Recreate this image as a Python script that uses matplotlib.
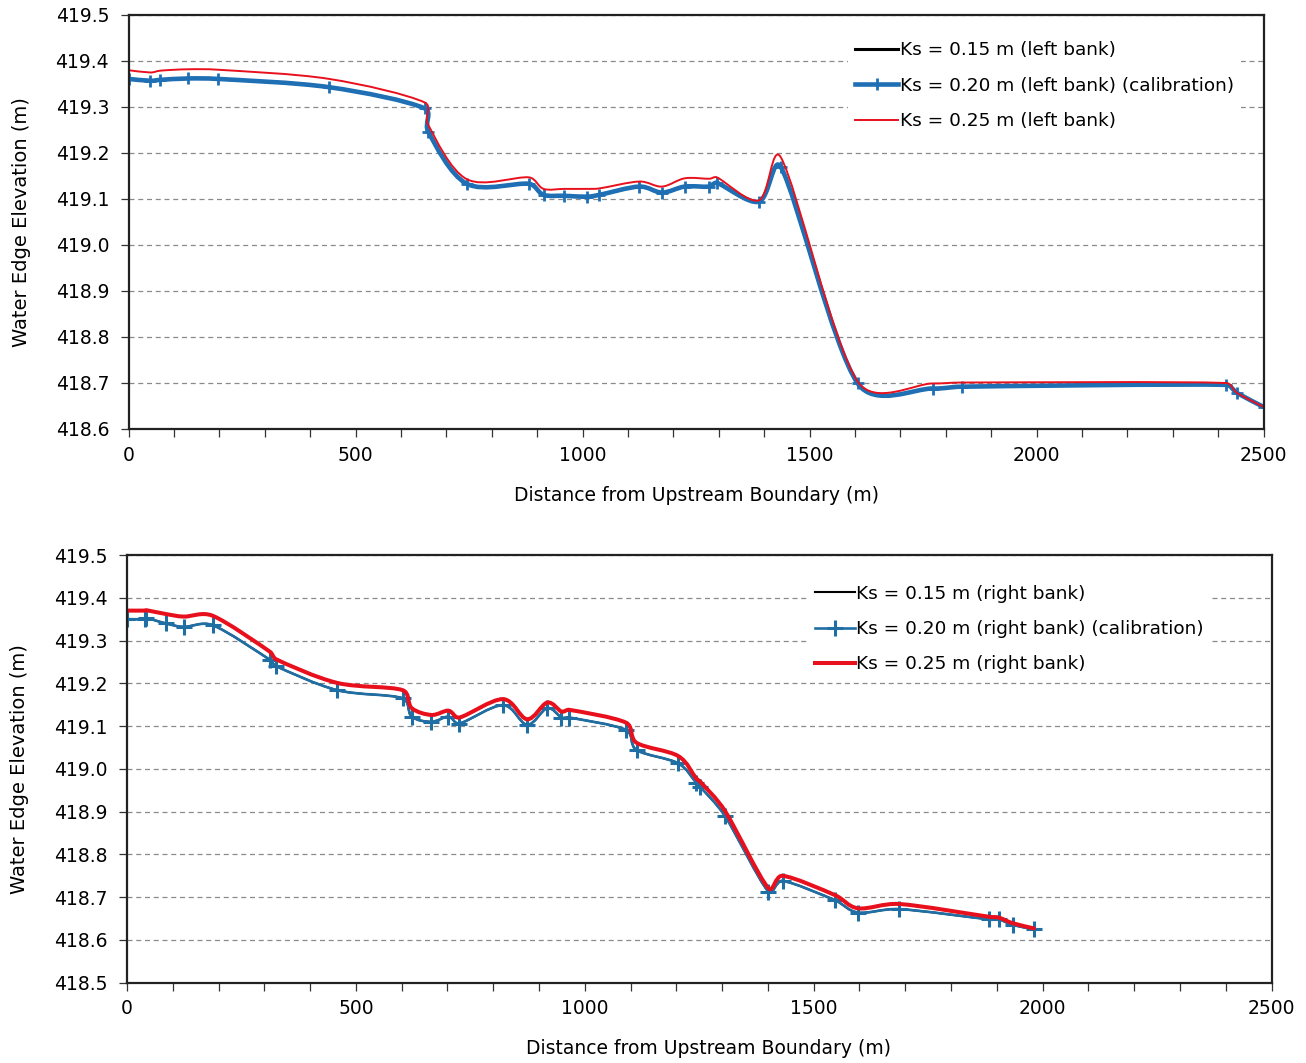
import matplotlib
matplotlib.use('Agg')
import matplotlib.pyplot as plt
from matplotlib.path import Path
from matplotlib.patches import PathPatch
from matplotlib.lines import Line2D
from matplotlib.ticker import MultipleLocator, FormatStrFormatter
import numpy as np

plt.rcParams['font.family'] = ['DejaVu Sans']

# ---------------- data: left bank (top panel) ----------------
x_left = [0, 48, 70, 130, 197, 442, 652, 660, 745, 882, 914, 960, 1010, 1037,
          1125, 1175, 1225, 1279, 1296, 1388, 1437, 1606, 1771, 1835, 2417, 2442, 2500]
left_ks020 = [419.361, 419.357, 419.359, 419.362, 419.361, 419.343, 419.297, 419.246,
              419.133, 419.133, 419.109, 419.107, 419.105, 419.109, 419.127, 419.114,
              419.127, 419.127, 419.135, 419.094, 419.169, 418.699, 418.688, 418.692,
              418.696, 418.678, 418.648]
left_ks015 = [419.361, 419.357, 419.359, 419.362, 419.361, 419.343, 419.297, 419.246,
              419.133, 419.133, 419.109, 419.107, 419.105, 419.109, 419.127, 419.114,
              419.127, 419.127, 419.135, 419.094, 419.169, 418.699, 418.688, 418.692,
              418.696, 418.678, 418.648]
left_ks025 = [419.380, 419.375, 419.379, 419.382, 419.381, 419.361, 419.310, 419.261,
              419.143, 419.147, 419.122, 419.122, 419.122, 419.123, 419.138, 419.127,
              419.145, 419.144, 419.147, 419.097, 419.190, 418.703, 418.699, 418.701,
              418.700, 418.678, 418.648]

# ---------------- data: right bank (bottom panel) ----------------
x_right = [0, 39, 42, 85, 124, 187, 312, 326, 459, 602, 622, 665, 702, 726, 821, 874,
           918, 949, 966, 1090, 1113, 1204, 1243, 1252, 1306, 1401, 1432, 1546, 1597,
           1687, 1884, 1905, 1935, 1981]
right_ks020 = [419.350, 419.350, 419.353, 419.340, 419.332, 419.336, 419.255, 419.240,
               419.184, 419.165, 419.122, 419.110, 419.122, 419.106, 419.149, 419.103,
               419.142, 419.120, 419.120, 419.091, 419.044, 419.013, 418.968, 418.958,
               418.890, 418.713, 418.738, 418.693, 418.664, 418.672, 418.648, 418.648,
               418.635, 418.625]
right_ks015 = [419.350, 419.350, 419.353, 419.340, 419.332, 419.336, 419.255, 419.240,
               419.184, 419.165, 419.122, 419.110, 419.122, 419.106, 419.149, 419.103,
               419.142, 419.120, 419.120, 419.091, 419.044, 419.013, 418.968, 418.958,
               418.890, 418.713, 418.738, 418.693, 418.664, 418.672, 418.648, 418.648,
               418.635, 418.625]
right_ks025 = [419.370, 419.370, 419.371, 419.362, 419.356, 419.358, 419.274, 419.256,
               419.201, 419.184, 419.142, 419.126, 419.136, 419.120, 419.163, 419.116,
               419.155, 419.134, 419.138, 419.108, 419.061, 419.030, 418.978, 418.970,
               418.902, 418.721, 418.750, 418.705, 418.674, 418.684, 418.654, 418.652,
               418.639, 418.627]

labels_left = ['Ks = 0.15 m (left bank)', 'Ks = 0.20 m (left bank) (calibration)',
               'Ks = 0.25 m (left bank)']
labels_right = ['Ks = 0.15 m (right bank)', 'Ks = 0.20 m (right bank) (calibration)',
                'Ks = 0.25 m (right bank)']
xlabel = 'Distance from Upstream Boundary (m)'
ylabel = 'Water Edge Elevation (m)'

BLACK = '#000000'
BLUE_TOP = '#1f6fb5'
BLUE_BOT = '#1f6fa5'
RED = '#e8101c'


def smooth_path(x, y, sx, sy, k=0.4):
    """Smoothed line through the points: Catmull-Rom style cubic Bezier
    handles (1/6 of neighbour difference, in screen-proportional space),
    clamped to a fraction of the segment length to avoid loops."""
    pts = np.column_stack([np.asarray(x, float) * sx, np.asarray(y, float) * sy])
    n = len(pts)
    verts = [pts[0]]
    codes = [Path.MOVETO]

    def handle(i):
        a = pts[i - 1] if i > 0 else pts[i]
        b = pts[i + 1] if i < n - 1 else pts[i]
        return (b - a) / 6.0

    for i in range(n - 1):
        p1, p2 = pts[i], pts[i + 1]
        L = np.hypot(*(p2 - p1))
        h1 = handle(i)
        h2 = handle(i + 1)
        for h in (h1, h2):
            m = np.hypot(*h)
            if m > k * L and m > 0:
                h *= k * L / m
        c1 = p1 + h1
        c2 = p2 - h2
        verts += [c1, c2, p2]
        codes += [Path.CURVE4] * 3
    verts = np.array(verts)
    verts[:, 0] /= sx
    verts[:, 1] /= sy
    return Path(verts, codes)


def draw_series(ax, x, y, color, lw, z, sx, sy):
    patch = PathPatch(smooth_path(x, y, sx, sy), fill=False, edgecolor=color, lw=lw,
                      joinstyle='round', capstyle='round', zorder=z)
    ax.add_patch(patch)


W, H = 1306, 1063
fig = plt.figure(figsize=(W / 100, H / 100), dpi=100)

ax1_box = [128.6, 15, 1135, 414]     # left, top, width, height in px
ax2_box = [127, 555, 1144.5, 427.7]
ax1 = fig.add_axes([ax1_box[0] / W, 1 - (ax1_box[1] + ax1_box[3]) / H, ax1_box[2] / W, ax1_box[3] / H])
ax2 = fig.add_axes([ax2_box[0] / W, 1 - (ax2_box[1] + ax2_box[3]) / H, ax2_box[2] / W, ax2_box[3] / H])

TICK_FS = 13.5


def style_axes(ax, ymin, ymax):
    ax.set_xlim(0, 2500)
    ax.set_ylim(ymin, ymax)
    ax.xaxis.set_major_locator(MultipleLocator(500))
    ax.xaxis.set_minor_locator(MultipleLocator(100))
    ax.yaxis.set_major_locator(MultipleLocator(0.1))
    ax.yaxis.set_major_formatter(FormatStrFormatter('%.1f'))
    ax.tick_params(axis='both', which='both', direction='out', color='#333333',
                   width=0.9, labelsize=TICK_FS)
    ax.tick_params(axis='x', which='both', length=6, pad=6)
    ax.tick_params(axis='y', which='major', length=6, pad=8)
    ax.yaxis.grid(True, linestyle=(0, (4, 3)), color='#8a8a8a', lw=0.9)
    ax.set_axisbelow(True)
    for s in ax.spines.values():
        s.set_linewidth(1.6)
        s.set_color('#222222')
        s.set_zorder(10)


style_axes(ax1, 418.6, 419.5)
style_axes(ax2, 418.5, 419.5)

sx1, sy1 = ax1_box[2] / 2500, ax1_box[3] / 0.9
sx2, sy2 = ax2_box[2] / 2500, ax2_box[3] / 1.0

# top panel
draw_series(ax1, x_left, left_ks015, BLACK, 2.2, 3, sx1, sy1)
draw_series(ax1, x_left, left_ks020, BLUE_TOP, 3.3, 4, sx1, sy1)
ax1.plot(x_left, left_ks020, ls='none', marker='+', ms=9, mew=2.0, color=BLUE_TOP, zorder=4)
draw_series(ax1, x_left, left_ks025, RED, 1.4, 5, sx1, sy1)

# bottom panel
draw_series(ax2, x_right, right_ks015, BLACK, 1.5, 3, sx2, sy2)
draw_series(ax2, x_right, right_ks020, BLUE_BOT, 1.9, 4, sx2, sy2)
ax2.plot(x_right, right_ks020, ls='none', marker='+', ms=11, mew=2.2, color=BLUE_BOT, zorder=4)
draw_series(ax2, x_right, right_ks025, RED, 2.9, 5, sx2, sy2)

# legends
h1 = [Line2D([], [], color=BLACK, lw=2.2),
      Line2D([], [], color=BLUE_TOP, lw=3.3, marker='+', ms=9, mew=2.0),
      Line2D([], [], color=RED, lw=1.4)]
leg1 = ax1.legend(h1, labels_left, loc='upper left',
                  bbox_to_anchor=(848 / W, 1 - 34 / H), bbox_transform=fig.transFigure,
                  borderaxespad=0, frameon=True, fancybox=False, facecolor='white',
                  edgecolor='none', framealpha=1, fontsize=13.3, handlelength=2.3,
                  handletextpad=0.1, labelspacing=0.95, borderpad=0.4, markerscale=1)
leg1.set_zorder(20)

h2 = [Line2D([], [], color=BLACK, lw=1.5),
      Line2D([], [], color=BLUE_BOT, lw=1.9, marker='+', ms=11, mew=2.2),
      Line2D([], [], color=RED, lw=2.9)]
leg2 = ax2.legend(h2, labels_right, loc='upper left',
                  bbox_to_anchor=(807.5 / W, 1 - 577.5 / H), bbox_transform=fig.transFigure,
                  borderaxespad=0, frameon=True, fancybox=False, facecolor='white',
                  edgecolor='none', framealpha=1, fontsize=13.3, handlelength=2.15,
                  handletextpad=0.1, labelspacing=0.93, borderpad=0.4, markerscale=1)
leg2.set_zorder(20)

# axis labels
for ax, ylc, xlc in ((ax1, (-0.094, 0.5), (0.5, -0.16)),
                     (ax2, (-0.0935, 0.5), (0.508, -0.1527))):
    ax.set_ylabel(ylabel, fontsize=14, va='center')
    ax.yaxis.set_label_coords(*ylc)
    ax.set_xlabel(xlabel, fontsize=13.5, va='center')
    ax.xaxis.set_label_coords(*xlc)

fig.savefig('out.png', dpi=100)
